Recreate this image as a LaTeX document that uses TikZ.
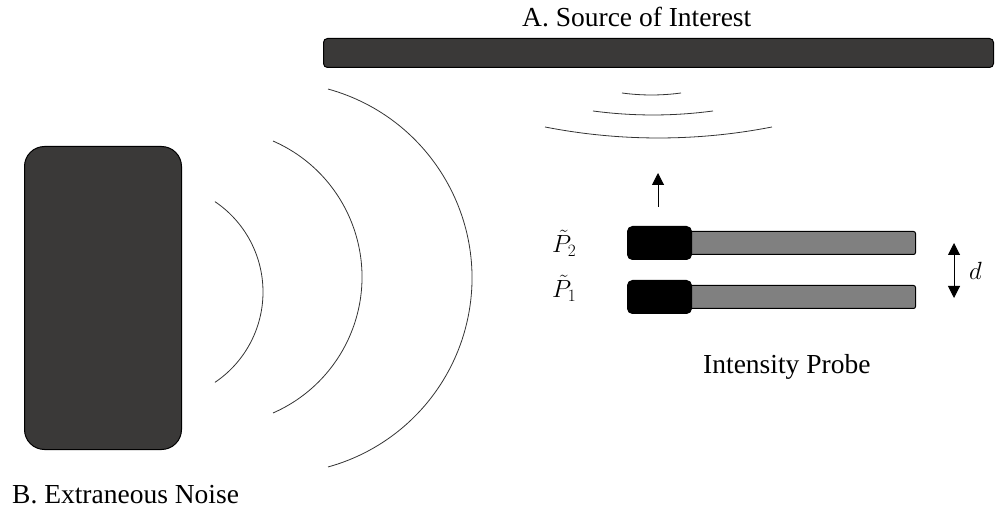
\documentclass[tikz,border=0pt]{standalone}
\usepackage{fontspec}
\setmainfont{Liberation Serif}
\usetikzlibrary{arrows.meta}
\definecolor{boxgray}{HTML}{3A3938}
\definecolor{bargray}{HTML}{808080}
\begin{document}
\begin{tikzpicture}[x=1pt,y=-1pt,
  darkbox/.style={draw=black, fill=boxgray, line width=1pt, inner sep=0pt, anchor=north west},
  headbox/.style={draw=black, fill=black, line width=1pt, inner sep=0pt, anchor=north west, rounded corners=5pt, minimum width=64pt, minimum height=33pt},
  barbox/.style={draw=black, fill=bargray, line width=1pt, inner sep=0pt, anchor=north west, rounded corners=2pt, minimum width=235pt, minimum height=23pt},
  wave/.style={draw=black!80, line width=0.8pt},
  lbl/.style={font=\fontsize{27.5}{32}\selectfont, inner sep=0pt, anchor=base west},
  mlbl/.style={font=\fontsize{24}{28}\selectfont, inner sep=0pt, anchor=base west},
  arr/.style={line width=1pt, -{Triangle[width=12pt,length=12pt]}},
  darr/.style={line width=1pt, {Triangle[width=12pt,length=12pt]}-{Triangle[width=12pt,length=12pt]}}]
\useasboundingbox (0,0) rectangle (995,510);

% source of interest
\node[darkbox, rounded corners=4pt, minimum width=670pt, minimum height=29pt] (src) at (323,38) {};
\node[lbl] (srclbl) at (522,27) {A. Source of Interest};

% extraneous noise
\node[darkbox, rounded corners=20pt, minimum width=157pt, minimum height=303pt] (noise) at (24,146) {};
\node[lbl] (noiselbl) at (12,503) {B. Extraneous Noise};

% noise waves
\draw[wave] (154,292) ++(-56:109) arc[start angle=-56, end angle=56, radius=109];
\draw[wave] (213.6,277) ++(-66.4:148.4) arc[start angle=-66.4, end angle=66.4, radius=148.4];
\draw[wave] (276,278) ++(-74.6:196) arc[start angle=-74.6, end angle=74.6, radius=196];

% source waves
\draw[wave] (651.5,-123.6) ++(97.76:218.6) arc[start angle=97.76, end angle=82.24, radius=218.6];
\draw[wave] (653,-337) ++(97.63:452) arc[start angle=97.63, end angle=82.37, radius=452];
\draw[wave] (658.5,-453) ++(101.07:591) arc[start angle=101.07, end angle=78.93, radius=591];

% probes
\node[barbox] (bar2) at (680,231) {};
\node[headbox] (head2) at (627,226) {};
\node[barbox] (bar1) at (680,285) {};
\node[headbox] (head1) at (627,280) {};

\node[mlbl] (p2) at (552,253) {$\tilde{P}_2$};
\node[mlbl] (p1) at (552,298) {$\tilde{P}_1$};

\coordinate (upA) at (658,207);
\coordinate (upB) at (658,173);
\draw[arr] (upA) -- (upB);

\coordinate (dA) at (954,243);
\coordinate (dB) at (954,298);
\draw[darr] (dA) -- (dB);
\node[mlbl] (d) at (969,280) {$d$};

\node[lbl] (probelbl) at (703,373) {Intensity Probe};
\end{tikzpicture}
\end{document}
